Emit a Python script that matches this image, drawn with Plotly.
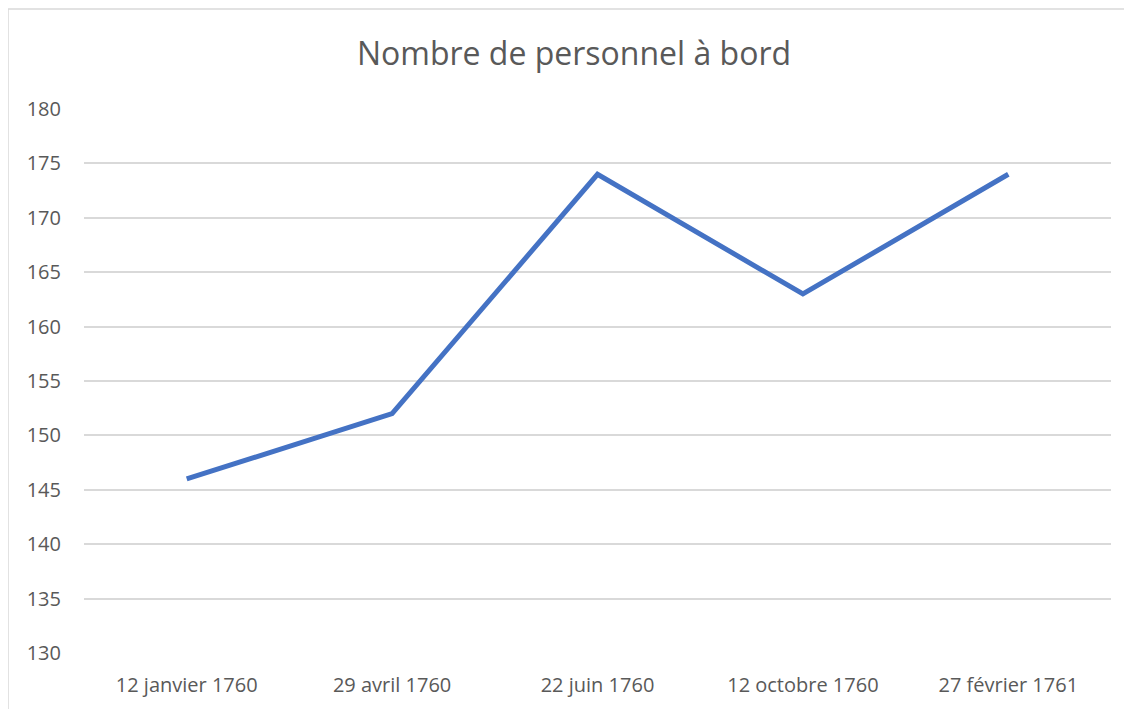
import plotly.graph_objects as go

categories = ["12 janvier 1760", "29 avril 1760", "22 juin 1760", "12 octobre 1760", "27 février 1761"]
values = [146, 152, 174, 163, 174]
title_text = "Nombre de personnel à bord"

# page has an 8px body margin, so figure coords = page coords - 8
W, H = 1124, 701
L, T = 76, 101
R = W - 1103
B = H - 645
pw, ph = W - L - R, H - T - B

def px_x(p):
    return (p - L) / pw

def px_y(p):
    return (H - B - p) / ph

fig = go.Figure()
fig.add_trace(go.Scatter(x=categories, y=values, mode="lines",
                         line=dict(color="#4472C4", width=5)))

fig.update_layout(
    width=W, height=H,
    margin=dict(l=L, r=R, t=T, b=B),
    paper_bgcolor="white", plot_bgcolor="white",
    showlegend=False,
    font=dict(family="Open Sans, sans-serif", color="#595959", size=20),
    title=dict(text=title_text, x=566 / W, xanchor="center", xref="container",
               y=1 - 46 / H, yanchor="middle",
               font=dict(size=32, color="#595959")),
    xaxis=dict(type="category", range=[-0.5, 4.5], showgrid=False,
               showline=False, zeroline=False, ticks="", ticklabelstandoff=18,
               tickfont=dict(size=20, color="#595959")),
    yaxis=dict(range=[130, 180], dtick=5, tick0=130, showgrid=True,
               gridcolor="#D9D9D9", gridwidth=1.5, zeroline=False,
               showline=False, ticks="", ticklabelstandoff=22,
               tickfont=dict(size=20, color="#595959")),
    shapes=[dict(type="rect", xref="paper", yref="paper",
                 x0=px_x(0), x1=px_x(1140), y0=px_y(720), y1=px_y(1),
                 line=dict(color="#D9D9D9", width=1.5), layer="below")],
)

fig.write_html("out.html")
